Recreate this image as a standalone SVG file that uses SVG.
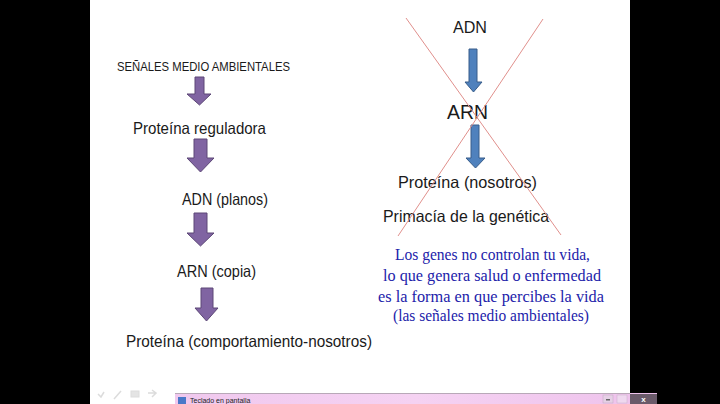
<svg xmlns="http://www.w3.org/2000/svg" width="720" height="404" viewBox="0 0 720 404">
<defs>
<style>
.t{font-family:"Liberation Sans",Arial,sans-serif;fill:#1a1a1a}
.s{font-family:"Liberation Serif","Times New Roman",serif;fill:#2222aa;font-size:17px}
.pa{fill:#8064a2;stroke:#5c4776;stroke-width:1}
.ba{fill:#4f81bd;stroke:#385d8a;stroke-width:1}
.x{stroke:#e0908c;stroke-width:1;fill:none}
</style>
<linearGradient id="pink" x1="0" y1="0" x2="1" y2="0">
<stop offset="0" stop-color="#f0c8ee"/><stop offset="0.5" stop-color="#f5d2f2"/><stop offset="1" stop-color="#eec2ec"/>
</linearGradient>
</defs>
<rect x="0" y="0" width="720" height="404" fill="#000"/>
<rect x="90" y="0" width="540" height="404" fill="#fff"/>

<g id="connectors">
<path class="pa" d="M195,77 H204 V94 H211 L199.5,105 L187,94 H195 Z"/>
<path class="pa" d="M194,139 H207 V158 H214 L200.5,172 L187,158 H194 Z"/>
<path class="pa" d="M194,213 H207 V233 H214 L200.5,246 L187,233 H194 Z"/>
<path class="pa" d="M201,288 H213 V308 H218 L206.5,321 L195,308 H201 Z"/>
<path class="ba" d="M469,49 H477 V82 H482 L473.5,92 L465,82 H469 Z"/>
<path class="ba" d="M471,125 H479 V158 H485 L475.5,168 L466,158 H471 Z"/>
</g>

<g id="n-senales"><text class="t" x="117" y="71" font-size="13" textLength="173" lengthAdjust="spacingAndGlyphs">SEÑALES MEDIO AMBIENTALES</text></g>
<g id="n-proteina-reg"><text class="t" x="133" y="134" font-size="16.5" textLength="133" lengthAdjust="spacingAndGlyphs">Proteína reguladora</text></g>
<g id="n-adn-planos"><text class="t" x="182" y="205" font-size="16.5" textLength="86" lengthAdjust="spacingAndGlyphs">ADN (planos)</text></g>
<g id="n-arn-copia"><text class="t" x="177" y="277" font-size="16.5" textLength="79" lengthAdjust="spacingAndGlyphs">ARN (copia)</text></g>
<g id="n-proteina-comp"><text class="t" x="126" y="347" font-size="16.5" textLength="246" lengthAdjust="spacingAndGlyphs">Proteína (comportamiento-nosotros)</text></g>

<g id="n-adn"><text class="t" x="453" y="33" font-size="16.5" textLength="34" lengthAdjust="spacingAndGlyphs">ADN</text></g>
<g id="n-arn"><text class="t" x="447" y="119" font-size="21" textLength="41" lengthAdjust="spacingAndGlyphs">ARN</text></g>
<g id="n-proteina-nos"><text class="t" x="398" y="188" font-size="16.5" textLength="139" lengthAdjust="spacingAndGlyphs">Proteína (nosotros)</text></g>
<g id="n-primacia"><text class="t" x="383" y="222" font-size="16.5" textLength="166" lengthAdjust="spacingAndGlyphs">Primacía de la genética</text></g>

<g id="cross">
<line class="x" x1="406" y1="18" x2="561" y2="235"/>
<line class="x" x1="543" y1="19" x2="398" y2="236"/>
</g>

<g id="n-quote">
<text class="s" x="395" y="260" textLength="195" lengthAdjust="spacingAndGlyphs">Los genes no controlan tu vida,</text>
<text class="s" x="383" y="281" textLength="218" lengthAdjust="spacingAndGlyphs">lo que genera salud o enfermedad</text>
<text class="s" x="378" y="302" textLength="226" lengthAdjust="spacingAndGlyphs">es la forma en que percibes la vida</text>
<text class="s" x="393" y="321" textLength="196" lengthAdjust="spacingAndGlyphs">(las señales medio ambientales)</text>
</g>

<g id="toolbar" fill="#e4e4e4" stroke="#dcdcdc">
<path d="M98,394 L101,397 L104,392" fill="none" stroke-width="1.5"/>
<path d="M114,399 L121,391" fill="none" stroke-width="1.5"/>
<rect x="131" y="391" width="8" height="6"/>
<path d="M148,393 H156 M152,390 L156,393 L152,397" fill="none" stroke-width="1.5"/>
</g>

<g id="taskbar">
<rect x="175" y="393" width="482" height="11" fill="url(#pink)"/>
<line x1="175" y1="393.5" x2="630" y2="393.5" stroke="#b8a8b8"/>
<rect x="178" y="397" width="8" height="7" fill="#4a78c8"/>
<text x="190" y="403" font-family="Liberation Sans,Arial,sans-serif" font-size="7" fill="#222">Teclado en pantalla</text>
<rect x="603" y="395" width="10" height="8" fill="#e6d0e6" stroke="#c0a8c0" stroke-width="0.5"/>
<rect x="606" y="399" width="4" height="1.5" fill="#666"/>
<rect x="617" y="395" width="10" height="8" fill="#efd8ef" stroke="#c8b0c8" stroke-width="0.5"/>
<rect x="630" y="394" width="27" height="10" fill="#6a5a6a"/>
<text x="643.5" y="402" font-family="Liberation Sans,Arial,sans-serif" font-size="8" font-weight="bold" fill="#fff" text-anchor="middle">x</text>
</g>
</svg>
